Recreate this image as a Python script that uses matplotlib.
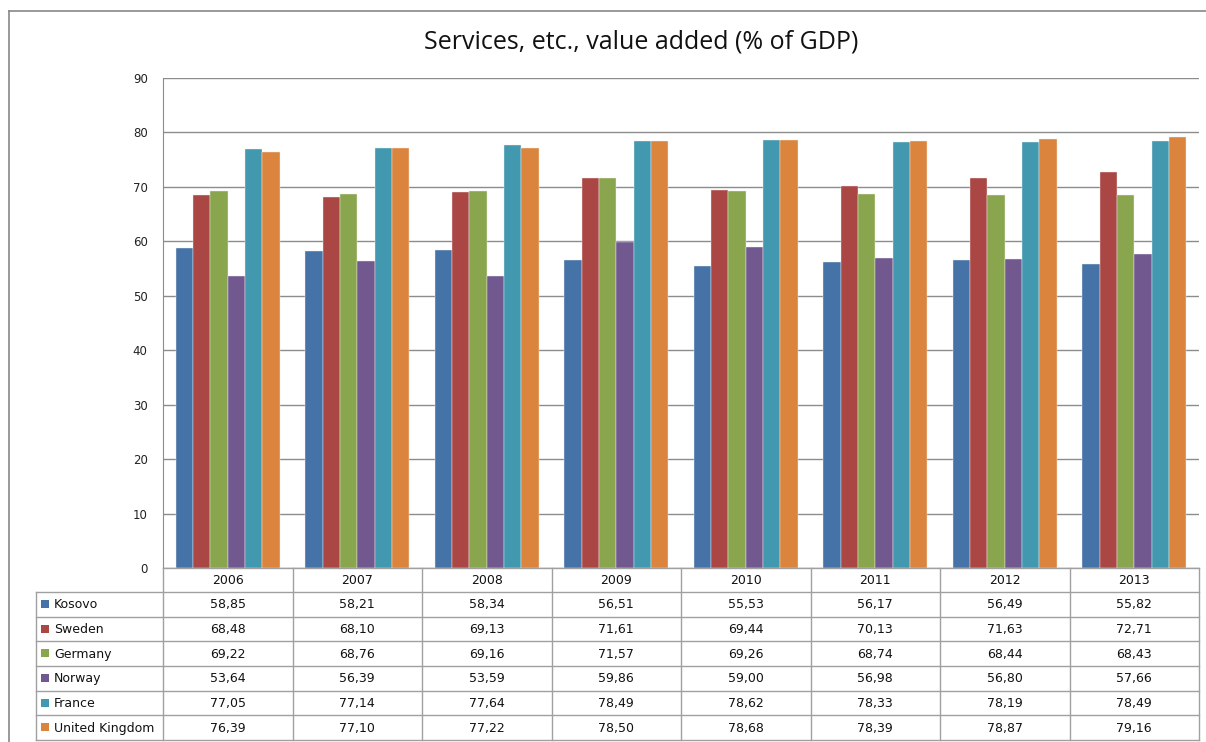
import matplotlib
matplotlib.use("Agg")
import matplotlib.pyplot as plt
from matplotlib.patches import Rectangle
import numpy as np

years = ["2006", "2007", "2008", "2009", "2010", "2011", "2012", "2013"]
series_names = ["Kosovo", "Sweden", "Germany", "Norway", "France", "United Kingdom"]
kosovo = [58.85, 58.21, 58.34, 56.51, 55.53, 56.17, 56.49, 55.82]
sweden = [68.48, 68.10, 69.13, 71.61, 69.44, 70.13, 71.63, 72.71]
germany = [69.22, 68.76, 69.16, 71.57, 69.26, 68.74, 68.44, 68.43]
norway = [53.64, 56.39, 53.59, 59.86, 59.00, 56.98, 56.80, 57.66]
france = [77.05, 77.14, 77.64, 78.49, 78.62, 78.33, 78.19, 78.49]
uk = [76.39, 77.10, 77.22, 78.50, 78.68, 78.39, 78.87, 79.16]
yticks = [0, 10, 20, 30, 40, 50, 60, 70, 80, 90]

series = [kosovo, sweden, germany, norway, france, uk]
colors = ["#4572A7", "#AA4643", "#89A54E", "#71588F", "#4198AF", "#DB843D"]

W, H = 1206, 742
fig = plt.figure(figsize=(W / 100, H / 100), dpi=100)

# pixel layout
pl, pr, pt, pb = 163, 1199, 78, 568
ax = fig.add_axes([pl / W, 1 - pb / H, (pr - pl) / W, (pb - pt) / H])

n = len(series)
bw = 1 / 7.5
x = np.arange(len(years))
for i, (vals, c) in enumerate(zip(series, colors)):
    offs = (i - (n - 1) / 2) * bw
    ax.bar(x + offs, vals, width=bw, color=c, edgecolor="#F0F0F0", linewidth=0.3, zorder=3)

ax.set_xlim(-0.5, len(years) - 0.5)
ax.set_ylim(0, 90)
ax.set_yticks(yticks)
ax.set_yticklabels([str(t) for t in yticks], fontsize=8.5, family="DejaVu Sans", color="#222222")
ax.tick_params(axis="y", length=0, pad=11)
ax.set_xticks([])
ax.grid(axis="y", color="#8C8C8C", linewidth=1.0, zorder=0)
for s in ["top", "right", "bottom"]:
    ax.spines[s].set_visible(False)
ax.spines["left"].set_color("#8C8C8C")

# overlay in pixel coords
ov = fig.add_axes([0, 0, 1, 1], zorder=5)
ov.set_xlim(0, W)
ov.set_ylim(H, 0)
ov.axis("off")
ov.patch.set_alpha(0)

# outer border
ov.plot([9, 1206], [11, 11], color="#888888", lw=1.2)
ov.plot([9, 9], [11, 742], color="#888888", lw=1.2)

ov.text(641, 42, "Services, etc., value added (% of GDP)", ha="center", va="center",
        fontsize=18, family="Open Sans", color="#111111")

# table
lc = "#A0A0A0"
tl = 36
hdr_top = pb
hdr_bot = 592
row_h = (740 - hdr_bot) / n
colw = (pr - pl) / len(years)
tfs = 9
ov.plot([pl, pr], [hdr_top, hdr_top], color=lc, lw=1)
for r in range(n + 1):
    yy = hdr_bot + r * row_h
    ov.plot([tl, pr], [yy, yy], color=lc, lw=1)
for j in range(len(years) + 1):
    xx = pl + j * colw
    ov.plot([xx, xx], [hdr_top, 740], color=lc, lw=1)
ov.plot([tl, tl], [hdr_bot, 740], color=lc, lw=1)

for j, yr in enumerate(years):
    ov.text(pl + (j + 0.5) * colw, (hdr_top + hdr_bot) / 2 + 1, yr, ha="center", va="center",
            fontsize=tfs, family="DejaVu Sans", color="#111111")
for r, (name, vals, c) in enumerate(zip(series_names, series, colors)):
    yc = hdr_bot + (r + 0.5) * row_h
    ov.add_patch(Rectangle((41, yc - 4.5), 8, 8, facecolor=c, edgecolor="none"))
    ov.text(54, yc + 0.5, name, ha="left", va="center", fontsize=tfs, family="DejaVu Sans", color="#111111")
    for j, v in enumerate(vals):
        ov.text(pl + (j + 0.5) * colw, yc + 0.5, f"{v:.2f}".replace(".", ","), ha="center", va="center",
                fontsize=tfs, family="DejaVu Sans", color="#111111")

fig.savefig("out.png", dpi=100)
